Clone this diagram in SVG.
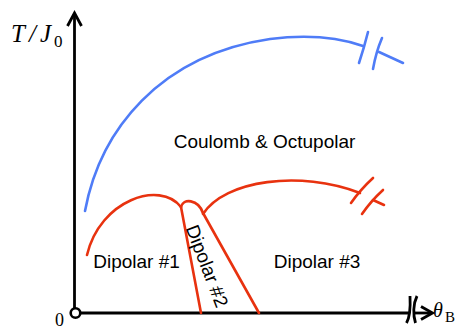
<svg xmlns="http://www.w3.org/2000/svg" width="459" height="329" viewBox="0 0 459 329">
<style>
.ax{fill:none;stroke:#000;stroke-width:2.8;stroke-linecap:butt}
.blue{fill:none;stroke:#4f7cf7;stroke-width:2.6;stroke-linecap:round}
.red{fill:none;stroke:#e8320f;stroke-width:2.6;stroke-linecap:round;stroke-linejoin:round}
.lbl{font-family:"Liberation Sans",Arial,sans-serif;font-size:19px;fill:#000}
.math{font-family:"Liberation Serif","Times New Roman",serif;fill:#000}
</style>
<rect width="459" height="329" fill="#fff"/>
<g id="axes">
<path class="ax" d="M74.5,308 V15"/>
<path class="ax" d="M67.5,26 L74.5,13 L81.5,26" stroke-linejoin="miter"/>
<path class="ax" d="M81,313 H409.5"/>
<path class="ax" d="M410,296 C410.5,306 410.5,316 406.5,323"/>
<path class="ax" d="M417,296 C413,304 413,315 415.5,323"/>
<path class="ax" d="M414,313 H431"/>
<path class="ax" d="M421,306.5 L432.5,313 L421,319.5" stroke-linejoin="miter"/>
<circle cx="75.5" cy="313" r="4.8" fill="#fff" stroke="#000" stroke-width="2.6"/>
<text class="math" x="55" y="326" font-size="18">0</text>
<text class="math" y="42" font-size="25" font-style="italic"><tspan x="11">T</tspan><tspan x="29">/</tspan><tspan x="40">J</tspan></text>
<text class="math" x="54" y="47" font-size="17">0</text>
<text class="math" x="433" y="317" font-size="20" font-style="italic">θ</text>
<text class="math" x="445" y="322" font-size="15">B</text>
</g>
<g id="coulomb-boundary">
<path class="blue" d="M85,211 C100,130 160,55 270,39 C310,34 340,38 363,46"/>
<path class="blue" d="M368,32 Q364,48 359,63"/>
<path class="blue" d="M382,38 Q376,52 373,69"/>
<path class="blue" d="M379,52 L403,63"/>
</g>
<g id="dipolar-boundaries">
<path class="red" d="M87,255 C100,200 160,180 181,207"/>
<path class="red" d="M181,207 C183,198 198,199 203,213"/>
<path class="red" d="M181,207 L201,313"/>
<path class="red" d="M203,213 L259,313"/>
<path class="red" d="M203,214 C225,180 300,170 360,193"/>
<path class="red" d="M373,178 Q360,190 351,203"/>
<path class="red" d="M383,190 Q371,201 362,214"/>
<path class="red" d="M373,200 L384,205"/>
</g>
<g id="region-coulomb"><text class="lbl" x="264.5" y="148" text-anchor="middle" font-size="19.5">Coulomb &amp; Octupolar</text></g>
<g id="region-dipolar1"><text class="lbl" x="136.5" y="268" text-anchor="middle">Dipolar #1</text></g>
<g id="region-dipolar2"><text class="lbl" transform="translate(207,266) rotate(69)" x="0" y="6.5" text-anchor="middle">Dipolar #2</text></g>
<g id="region-dipolar3"><text class="lbl" x="317" y="268" text-anchor="middle">Dipolar #3</text></g>
</svg>
